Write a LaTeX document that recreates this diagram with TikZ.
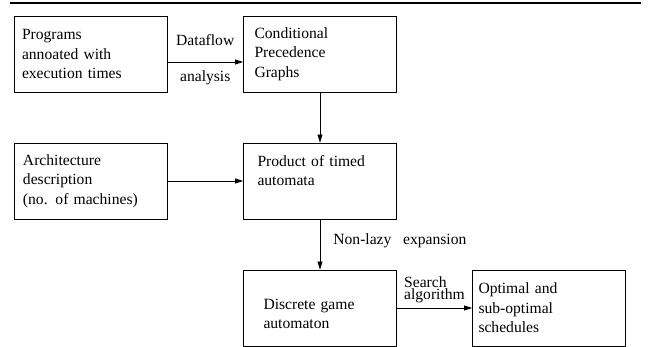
\documentclass[tikz,border=0pt]{standalone}
\usepackage{fontspec}
\setmainfont{Liberation Serif}
\usepackage{tikz}
\usetikzlibrary{arrows.meta}

\begin{document}
\begin{tikzpicture}[x=1pt, y=-1pt, font=\fontsize{15.6}{19.5}\selectfont,
    blk/.style={draw, line width=0.8pt, minimum width=153pt, minimum height=76pt, inner sep=1pt, align=left, text width=#1},
    flow/.style={-{Triangle[length=8pt,width=5pt]}, line width=0.8pt},
    lbl/.style={inner sep=0pt}]
          \useasboundingbox (0,0) rectangle (649,347);
          \draw[line width=2.6pt] (10,3) -- (641,3);
          \node[blk=137pt] (prog) at (90.5,54) {Programs\\annoated with\\execution times};
          \node[blk=131pt] (cpg) at (320,54) {Conditional\\Precedence\\Graphs};
          \node[blk=135pt] (arch) at (90.5,181) {Architecture\\description\\(no. of machines)};
          \node[blk=125pt, text depth=40pt] (prod) at (320,181) {Product of timed\\automata};
          \node[blk=113pt, text height=22pt] (disc) at (320,308) {Discrete game\\automaton};
          \node[blk=141pt] (opt) at (549,308) {Optimal and\\sub-optimal\\schedules};
          \draw[flow] ([yshift=-8pt]prog.east) -- node[lbl, above=16pt] (dfl) {Dataflow}
                node[lbl, below=8pt] (ana) {analysis} ([yshift=-8pt]cpg.west);
          \draw[flow] (cpg) -- (prod);
          \draw[flow] (arch) -- (prod);
          \draw[flow] (prod) -- node[lbl, right=13pt, pos=0.43] (nle) {Non-lazy\hspace{0.75em}expansion} (disc);
          \draw[flow] (disc) -- node[lbl, above=5pt, align=left, font=\fontsize{15.6}{12}\selectfont] (srch) {Search\\algorithm} (opt);
        \end{tikzpicture}
\end{document}
